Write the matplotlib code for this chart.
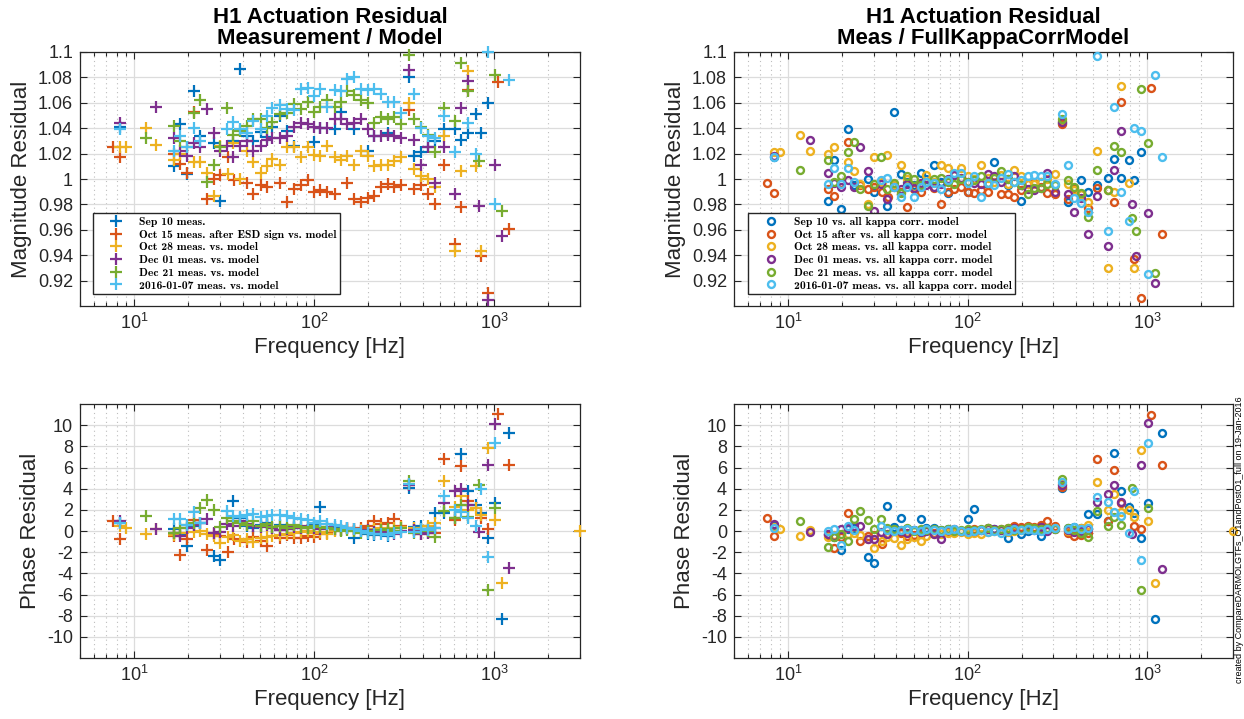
import numpy as np
import matplotlib
matplotlib.use('Agg')
import matplotlib.pyplot as plt
from matplotlib.ticker import LogLocator, FixedLocator, FuncFormatter, NullFormatter

nan = np.nan

# ---------------- data ----------------
labels_left = ['Sep 10 meas.', 'Oct 15 meas. after ESD sign vs. model', 'Oct 28 meas. vs. model',
               'Dec 01 meas. vs. model', 'Dec 21 meas. vs. model', '2016-01-07 meas. vs. model']
labels_right = ['Sep 10 vs. all kappa corr. model', 'Oct 15 after vs. all kappa corr. model',
                'Oct 28 meas. vs. all kappa corr. model', 'Dec 01 meas. vs. all kappa corr. model',
                'Dec 21 meas. vs. all kappa corr. model', '2016-01-07 meas. vs. all kappa corr. model']

# Sep 10
f_sep10 = [8.3, 16.7, 18.0, 19.7, 21.6, 23.3, 27.7, 30.0, 35.6, 38.8, 42.5, 46.0, 50.5, 55.0, 58.5, 65.0, 71.0, 77.5,
           100, 108, 130, 141, 167, 198, 216, 256, 335, 360, 393, 428, 468, 525, 605, 656, 715, 790, 845, 925, 1015,
           1105, 1205]
magL_sep10 = [1.041, 1.010, 1.043, 1.004, 1.069, 1.034, 1.028, 0.983, 1.030, 1.087, 1.034, 1.030, 1.037, 1.033, 1.041,
              1.050, 1.038, 1.026, 1.029, 1.040, 1.039, 1.053, 1.039, 1.022, 1.034, 1.036, 1.080, 1.018, 1.021, 1.025,
              1.030, 1.039, 1.039, 1.031, 1.036, 1.051, 1.036, 1.060, nan, nan, nan]
phL_sep10 = [0.8, 0.2, -0.3, -1.4, 0.5, 0.8, -2.4, -2.7, 2.8, 1.2, 0.5, 0.3, 0.6, 0.8, 0.3, 0.6, 0.2, 0.3, 0.6, 2.3,
             0.4, 0.1, -0.7, -0.3, -0.4, -0.5, 4.1, 0.4, 0.5, 0.2, 1.7, 1.7, 1.2, 7.3, 3.8, 2.5, 1.7, -0.7, 2.6, -8.3,
             9.3]
magR_sep10 = [1.017, 0.983, 1.015, 0.976, 1.039, 0.995, 1.000, 0.990, 0.979, 1.053, 1.004, 0.998, 0.995, 1.005, 1.000,
              1.011, 0.998, 0.989, 0.990, 1.000, 0.996, 1.013, 0.995, 0.983, 0.997, 0.998, 1.044, 0.982, 0.992, 0.999,
              0.990, 0.995, 1.001, 1.016, 1.001, 1.015, 0.999, 1.021, nan, nan, nan]
phR_sep10 = [0.5, -0.3, -0.6, -1.8, 0.2, 0.3, -2.5, -3.0, 2.4, 0.4, 1.2, 0.2, 0.1, 1.1, 0.3, 0.3, 0.1, 0.2, 1.1, 2.1,
             0.3, 0.2, -0.7, -0.3, 0.0, -0.5, 4.1, 0.3, 0.4, 0.3, 1.6, 1.6, 0.9, 7.4, 3.8, 2.3, 1.7, -0.7, 2.6, -8.3,
             9.3]

# Oct 15
f_oct15 = [7.6, 8.3, 16.7, 18.0, 19.7, 21.6, 25.3, 27.7, 30.0, 33.4, 36.0, 42.5, 46.0, 50.5, 55.0, 65.0, 71.0, 77.5,
           84.0, 92.0, 100, 108, 118, 130, 153, 167, 182, 198, 216, 235, 256, 278, 305, 335, 360, 393, 428, 468, 525,
           605, 656, 715, 845, 925, 1050, 1205]
magL_oct15 = [1.025, 1.017, 1.020, 1.012, 1.005, 1.053, 0.984, 1.000, 1.003, 1.017, 0.999, 0.997, 0.988, 0.995, 0.994,
              0.997, 0.982, 0.992, 0.995, 0.999, 0.990, 0.991, 0.990, 0.988, 0.997, 0.984, 0.982, 0.985, 0.987, 0.994,
              0.996, 0.994, 0.995, 1.054, 0.992, 0.995, 0.988, 0.980, 1.011, 0.949, 0.978, 1.070, 0.939, 0.910, 1.076,
              0.961]
phL_oct15 = [0.9, -0.8, -0.5, -2.3, -0.8, 1.0, -1.8, -0.3, -0.5, -2.0, -0.8, -1.0, -0.6, -0.9, -1.4, -0.7, -0.4, -0.7,
             -0.7, -0.5, -0.6, -0.3, -0.2, 0.1, 0.3, 0.2, 0.3, 0.5, 0.9, 0.7, 0.8, 1.1, 0.5, 4.3, 0.1, -0.3, -0.2, -0.2,
             6.8, 1.0, 6.1, 2.8, 1.2, 0.2, 11.1, 6.2]
magR_oct15 = [0.997, 0.989, 0.992, 0.987, 0.997, 1.029, 0.995, 0.992, 0.994, 0.990, 0.986, 0.990, 0.978, 0.992, 0.990,
              0.993, 0.980, 0.990, 0.992, 0.994, 0.990, 0.989, 0.991, 0.990, 0.988, 0.988, 0.986, 0.991, 0.996, 0.997,
              0.994, 0.989, 0.988, 1.043, 0.984, 0.993, 0.988, 0.977, 0.993, 0.991, 0.982, 1.061, 0.937, 0.906, 1.072,
              0.957]
phR_oct15 = [1.2, -0.5, -0.4, -1.6, -0.6, 1.7, -0.9, -0.5, -0.4, -1.2, -0.3, -0.2, -0.5, -0.4, -0.3, -0.2, 0.0, -0.1,
             0.1, 0.0, -0.1, 0.2, 0.1, 0.3, 0.2, 0.3, 0.5, 0.4, 0.5, 0.4, 0.6, 0.9, 0.5, 4.2, -0.2, -0.5, -0.4, -0.2,
             6.8, 0.9, 5.8, 2.6, 0.5, 0.2, 11.0, 6.2]

# Oct 28
f_oct28 = [8.3, 9.0, 11.7, 13.2, 16.7, 18.0, 21.6, 23.3, 25.3, 27.7, 30.0, 33.4, 35.6, 38.8, 42.5, 46.0, 50.5, 55.0,
           58.5, 65.0, 71.0, 77.5, 84.0, 92.0, 100, 108, 118, 130, 141, 153, 167, 182, 198, 216, 235, 256, 278, 305,
           335, 360, 393, 428, 468, 525, 605, 656, 715, 790, 845, 925, 1015, 1105, 3000]
magL_oct28 = [1.025, 1.025, 1.040, 1.027, 1.015, 1.020, 1.013, 1.013, 1.005, 0.987, 1.026, 1.004, 1.028, 1.000, 1.022,
              1.013, 1.005, 1.010, 1.016, 1.011, 1.025, 1.025, 1.017, 1.025, 1.019, 1.018, 1.026, 1.017, 1.015, 1.018,
              1.011, 1.022, 1.018, 1.010, 1.011, 1.011, 1.014, 1.017, 1.060, 1.008, 1.002, 1.000, 0.994, 1.034, 0.943,
              1.006, 1.085, 1.010, 0.943, nan, nan, nan, nan]
phL_oct28 = [0.5, 0.3, -0.3, 0.2, -0.4, -0.2, -0.1, 0.0, -0.3, -0.5, -1.1, -0.6, -0.4, -0.9, -0.8, -1.0, -0.7, -0.6,
             -0.5, -0.4, -0.3, -0.2, -0.1, 0.0, -0.2, -0.1, -0.3, 0.0, 0.1, 0.2, 0.0, 0.1, 0.0, 0.2, 0.3, 0.1, 0.3, 0.4,
             4.4, 0.3, 0.2, 0.5, 0.8, 4.7, 2.3, 3.3, 2.0, 2.2, 1.5, 7.8, 1.0, -4.9, 0.0]
magR_oct28 = [1.021, 1.021, 1.035, 1.022, 1.020, 1.025, 1.013, 1.006, 0.996, 0.980, 1.017, 0.998, 1.019, 0.995, 1.011,
              1.000, 0.994, 0.997, 1.003, 0.998, 1.011, 1.009, 1.003, 1.009, 1.002, 1.000, 1.011, 1.001, 0.998, 1.003,
              0.996, 1.007, 1.002, 0.996, 0.996, 0.998, 1.000, 1.004, 1.046, 0.996, 0.991, 0.988, 0.982, 1.022, 0.930,
              0.990, 1.073, 0.997, 0.930, nan, nan, nan, nan]
phR_oct28 = [0.4, 0.2, -0.5, 0.1, -0.6, -0.4, -0.3, -0.2, -0.4, -0.8, -1.6, -0.9, -0.6, -0.7, -1.3, -0.8, -0.6, -0.9,
             -0.5, -0.3, -0.3, -0.2, -0.2, -0.1, -0.3, -0.2, -0.3, -0.1, 0.0, 0.1, -0.1, 0.0, 0.1, 0.2, 0.2, 0.1, 0.2,
             0.3, 4.4, 0.0, 0.0, 0.3, 0.6, 4.6, 2.0, 3.5, 1.8, 2.0, 1.3, 7.7, 0.9, -4.9, 0.0]

# Dec 01
f_dec01 = [8.3, 13.2, 16.7, 18.0, 19.7, 21.6, 23.3, 25.3, 27.7, 30.0, 32.8, 35.6, 38.8, 42.5, 46.0, 50.5, 55.0, 58.5,
           65.0, 71.0, 77.5, 84.0, 92.0, 100, 108, 118, 130, 141, 153, 167, 182, 198, 216, 235, 256, 278, 305, 335,
           360, 393, 428, 468, 525, 605, 656, 715, 820, 870, 925, 1015, 1105, 1205]
magL_dec01 = [1.044, 1.057, 1.032, 1.022, 1.018, 1.028, 1.025, 1.055, 1.036, 1.022, 1.026, 1.017, 1.026, 1.030, 1.022,
              1.026, 1.031, 1.032, 1.032, 1.034, 1.041, 1.044, 1.043, 1.041, 1.040, 1.040, 1.047, 1.047, 1.043, 1.044,
              1.047, 1.039, 1.034, 1.034, 1.035, 1.034, 1.032, 1.086, 1.031, 1.011, 1.025, 0.997, 1.025, 0.988, 1.056,
              1.077, 0.979, nan, 0.905, 1.011, 0.955, nan]
phL_dec01 = [0.9, 0.2, -0.2, -0.5, 0.3, 0.6, 0.8, 1.1, -0.2, -0.1, 0.7, 0.5, 0.9, 0.7, 0.5, 0.4, 0.6, 0.3, 0.1, 0.2,
             0.4, 0.3, 0.5, 0.3, 0.2, 0.4, 0.2, 0.1, 0.3, 0.2, 0.0, 0.1, -0.1, 0.0, -0.1, -0.3, 0.0, 4.3, 0.1, -0.3,
             -0.2, 0.3, 2.6, 3.8, 4.0, 2.5, -0.1, nan, 6.2, 10.1, nan, -3.5]
magR_dec01 = [1.018, 1.031, 1.005, 0.997, 0.994, 0.999, 0.994, 1.025, 1.006, 0.975, 0.996, 0.984, 0.994, 0.992, 0.996,
              0.993, 0.997, 0.995, 0.994, 0.996, 1.000, 1.003, 1.001, 0.998, 0.997, 0.996, 1.004, 1.002, 0.998, 1.000,
              1.002, 0.995, 0.992, 0.991, 0.993, 1.005, 0.990, 1.045, 0.988, 0.974, 0.985, 0.957, 0.987, 0.947, 1.007,
              1.038, 0.980, 0.939, nan, 0.973, 0.918, nan]
phR_dec01 = [0.7, -0.1, -0.3, -0.5, 0.2, 0.3, 0.5, 0.5, -0.8, -0.8, -0.1, -0.3, 0.1, 0.0, -0.2, 0.1, -0.1, 0.0, -0.3,
             -0.8, 0.1, 0.2, 0.0, 0.1, 0.0, 0.1, 0.2, 0.2, 0.1, 0.2, 0.3, 0.2, 0.3, 0.1, 0.4, 0.0, 0.2, 4.3, 0.1, -0.1,
             0.0, 0.2, 2.7, 3.5, 4.3, 2.7, -0.3, nan, 6.2, 10.2, nan, -3.6]

# Dec 21
f_dec21 = [11.7, 16.7, 18.0, 19.7, 21.6, 23.3, 25.3, 27.7, 30.0, 32.8, 35.6, 38.8, 42.5, 46.0, 50.5, 55.0, 58.5, 65.0,
           71.0, 77.5, 84.0, 92.0, 100, 108, 118, 130, 141, 153, 167, 182, 198, 216, 235, 256, 278, 305, 335, 360,
           393, 428, 468, 525, 605, 656, 715, 820, 870, 925, 1015, 1105]
magL_dec21 = [1.032, 1.042, 1.030, 1.025, 1.052, 1.062, 0.998, 1.011, 1.025, 1.056, 1.035, 1.038, 1.042, 1.047, 1.047,
              1.040, 1.045, 1.051, 1.052, 1.059, 1.055, 1.061, 1.053, 1.057, 1.062, 1.057, 1.061, 1.069, 1.066, 1.062,
              1.060, 1.044, 1.049, 1.047, 1.049, 1.043, 1.098, 1.047, 1.041, 1.035, 1.021, 1.056, 1.046, 1.091, 1.069,
              1.014, nan, nan, 1.082, 0.975]
phL_dec21 = [1.4, -0.2, 0.3, 0.6, 0.8, 2.2, 2.9, 2.0, 0.4, 1.2, 0.9, 0.8, 0.6, 0.9, 0.5, 0.7, 0.4, 0.5, 0.3, 0.6,
             0.4, 0.3, 0.5, 0.4, 0.3, 0.2, 0.0, 0.1, 0.0, -0.2, 0.0, -0.3, 0.1, 0.2, 0.0, 0.3, 4.7, -0.2, 0.2, 0.0,
             -0.6, 1.9, 1.2, 2.5, 1.3, 4.3, nan, -5.6, 2.2, nan]
magR_dec21 = [1.007, 1.015, 0.998, 1.002, 1.021, 1.029, 0.992, 0.979, 0.996, 1.017, 0.992, 0.997, 0.989, 1.002, 1.000,
              0.995, 0.998, 1.000, 1.001, 0.998, 0.996, 1.000, 0.998, 0.999, 1.002, 0.997, 1.001, 1.006, 1.000, 0.998,
              0.995, 0.988, 0.993, 0.993, 0.996, 0.995, 1.047, 0.999, 0.994, 0.989, 0.970, 1.007, 0.991, 1.026, 1.021,
              0.969, 0.959, 1.071, 1.028, 0.926]
phR_dec21 = [0.9, -1.5, -0.6, -0.3, -0.9, 1.1, 1.9, 1.0, 0.2, 1.1, 0.3, 0.2, 0.1, 0.3, 0.0, 0.2, 0.1, 0.2, 0.1, 0.2,
             0.0, 0.1, 0.2, 0.1, 0.2, 0.3, 0.1, 0.2, 0.3, 0.1, 0.2, 0.4, 0.3, 0.2, 0.3, 0.2, 4.9, 0.3, 0.1, -0.2,
             -0.6, 1.9, 0.5, 1.3, 0.6, 4.1, nan, -5.6, 2.2, nan]

# 2016-01-07
f_jan07 = [8.3, 16.7, 18.0, 19.7, 21.6, 23.3, 32.8, 35.6, 38.8, 42.5, 46.0, 50.5, 55.0, 58.5, 65.0, 71.0, 77.5, 84.0,
           92.0, 100, 108, 118, 130, 141, 153, 167, 182, 198, 216, 235, 256, 278, 305, 335, 360, 393, 428, 468, 525,
           605, 656, 715, 790, 845, 925, 1015, 1105, 1205]
magL_jan07 = [1.039, 1.022, 1.034, 1.025, 1.040, 1.030, 1.039, 1.045, 1.039, 1.036, 1.046, 1.039, 1.050, 1.056, 1.058,
              1.055, 1.054, 1.071, 1.072, 1.065, 1.071, 1.057, 1.070, 1.069, 1.079, 1.080, 1.071, 1.070, 1.071, 1.067,
              1.061, 1.061, 1.052, nan, 1.067, 1.040, 1.034, 1.032, 1.050, 1.021, nan, 1.044, 1.020, nan, 1.100, 0.980,
              nan, 1.078]
phL_jan07 = [0.8, 1.1, 1.1, 0.6, 1.8, 0.8, 1.9, 1.4, 1.3, 1.5, 1.6, 1.3, 1.4, 1.5, 1.5, 1.4, 1.2, 1.1, 1.0, 0.8,
             0.9, 0.7, 0.6, 0.5, 0.3, 0.2, 0.0, -0.2, -0.3, -0.3, -0.4, -0.2, -0.1, 4.4, -0.1, 0.2, 0.1, 0.3, 3.3, 2.0,
             1.8, 1.2, 0.5, 4.0, -2.5, 8.3, nan, nan]
magR_jan07 = [1.017, 0.996, 1.009, 0.996, 1.009, 0.998, 0.999, 1.001, 0.994, 0.986, 0.994, 0.986, 0.994, 0.998, 0.997,
              0.992, 0.999, 1.005, 1.005, 0.997, 1.002, 0.986, 0.997, 0.995, 1.001, 1.004, 0.998, 0.999, 1.002, 1.003,
              1.002, 1.002, 0.996, 1.051, 1.011, 0.985, 0.981, 0.974, 1.097, 0.959, 1.057, 0.990, 0.967, 1.040, 1.038,
              0.925, 1.082, 1.017]
phR_jan07 = [0.3, 0.0, 0.2, -1.3, 0.5, 0.1, 0.5, 0.1, 0.0, 0.1, 0.2, 0.1, 0.0, 0.2, 0.1, 0.0, 0.1, 0.2, 0.0, -0.1,
             0.0, 0.1, -0.1, 0.0, -0.2, 0.0, 0.2, 0.1, 0.2, 0.1, 0.0, 0.2, 0.3, 4.6, 0.2, 0.4, 0.2, 0.3, 3.2, 2.7,
             1.8, 1.4, -0.2, 3.8, -2.7, 8.3, nan, nan]

mag_ticks = [0.92, 0.94, 0.96, 0.98, 1.0, 1.02, 1.04, 1.06, 1.08, 1.1]
phase_ticks = [-10, -8, -6, -4, -2, 0, 2, 4, 6, 8, 10]

freqs = [f_sep10, f_oct15, f_oct28, f_dec01, f_dec21, f_jan07]
magL = [magL_sep10, magL_oct15, magL_oct28, magL_dec01, magL_dec21, magL_jan07]
phL = [phL_sep10, phL_oct15, phL_oct28, phL_dec01, phL_dec21, phL_jan07]
magR = [magR_sep10, magR_oct15, magR_oct28, magR_dec01, magR_dec21, magR_jan07]
phR = [phR_sep10, phR_oct15, phR_oct28, phR_dec01, phR_dec21, phR_jan07]

colors = ['#0072BD', '#D95319', '#EDB120', '#7E2F8E', '#77AC30', '#4DBEEE']

# ---------------- style ----------------
plt.rcParams['font.family'] = ['Liberation Sans', 'DejaVu Sans']
plt.rcParams['mathtext.fontset'] = 'custom'
plt.rcParams['mathtext.rm'] = 'Liberation Sans'
plt.rcParams['mathtext.it'] = 'Liberation Sans:italic'
plt.rcParams['mathtext.bf'] = 'Liberation Sans:bold'

W, H = 1244, 719
fig = plt.figure(figsize=(W / 100, H / 100), dpi=100)


def add_ax(x0, y0, x1, y1):
    return fig.add_axes([x0 / W, 1 - y1 / H, (x1 - x0) / W, (y1 - y0) / H])


ax_ml = add_ax(80, 52, 580, 306)
ax_mr = add_ax(734, 52, 1233, 306)
ax_pl = add_ax(80, 404, 580, 658)
ax_pr = add_ax(734, 404, 1233, 658)

dark = '#262626'


def style(ax, yticks, ylim, ylabel):
    ax.set_xscale('log')
    ax.set_xlim(5, 3000)
    ax.set_ylim(*ylim)
    ax.xaxis.set_major_locator(LogLocator(base=10, numticks=10))
    ax.xaxis.set_minor_locator(LogLocator(base=10, subs=np.arange(2, 10), numticks=20))
    ax.xaxis.set_minor_formatter(NullFormatter())
    ax.yaxis.set_major_locator(FixedLocator(yticks))
    ax.yaxis.set_major_formatter(FuncFormatter(lambda v, p: '%g' % round(v, 4)))
    ax.grid(True, which='major', color='#dcdcdc', lw=0.9, ls='-')
    ax.grid(True, which='minor', axis='x', color='#bdbdbd', lw=0.8, ls=(0, (1, 3)))
    ax.set_axisbelow(True)
    ax.tick_params(which='both', direction='in', top=True, right=True, labelsize=13,
                   color=dark, labelcolor=dark, width=0.8)
    ax.tick_params(which='major', length=5, pad=5)
    ax.tick_params(which='minor', length=3)
    for s in ax.spines.values():
        s.set_color(dark)
        s.set_linewidth(0.9)
    ax.set_xlabel('Frequency [Hz]', fontsize=16, color=dark, labelpad=3)
    ax.set_ylabel(ylabel, fontsize=16, color=dark, labelpad=4)


style(ax_ml, mag_ticks, (0.9, 1.1), 'Magnitude Residual')
style(ax_mr, mag_ticks, (0.9, 1.1), 'Magnitude Residual')
style(ax_pl, phase_ticks, (-12, 12), 'Phase Residual')
style(ax_pr, phase_ticks, (-12, 12), 'Phase Residual')

for i in range(6):
    ax_ml.plot(freqs[i], magL[i], ls='none', marker='+', ms=8.5, mew=1.6, color=colors[i],
               clip_on=False, label=labels_left[i], zorder=3)
    ax_pl.plot(freqs[i], phL[i], ls='none', marker='+', ms=8.5, mew=1.6, color=colors[i],
               clip_on=False, zorder=3)
    ax_mr.plot(freqs[i], magR[i], ls='none', marker='o', ms=5.0, mew=1.7, mfc='none', color=colors[i],
               clip_on=False, label=labels_right[i], zorder=3)
    ax_pr.plot(freqs[i], phR[i], ls='none', marker='o', ms=5.0, mew=1.7, mfc='none', color=colors[i],
               clip_on=False, zorder=3)

ax_ml.set_title('H1 Actuation Residual\nMeasurement / Model', fontsize=16, fontweight='bold',
                linespacing=0.95, pad=6, color='black')
ax_mr.set_title('H1 Actuation Residual\nMeas / FullKappaCorrModel', fontsize=16, fontweight='bold',
                linespacing=0.95, pad=6, color='black')

leg_kw = dict(loc='lower left', prop={'family': 'cmb10', 'size': 8.4}, frameon=True, fancybox=False,
              edgecolor=dark, framealpha=1, borderaxespad=0, handlelength=3.3, handletextpad=0.35,
              borderpad=0.3, labelspacing=0.22)
lg1 = ax_ml.legend(bbox_to_anchor=(0.026, 0.047), **leg_kw)
lg2 = ax_mr.legend(bbox_to_anchor=(0.028, 0.047), **leg_kw)
for lg in (lg1, lg2):
    lg.get_frame().set_linewidth(1.0)
    lg.set_zorder(5)

fig.text(1239 / W, 1 - 540 / H, 'created by CompareDARMOLGTFs_O1andPostO1_full on 19-Jan-2016',
         rotation=90, fontsize=6.5, ha='center', va='center', color='black')

fig.savefig('out.png', dpi=100)
